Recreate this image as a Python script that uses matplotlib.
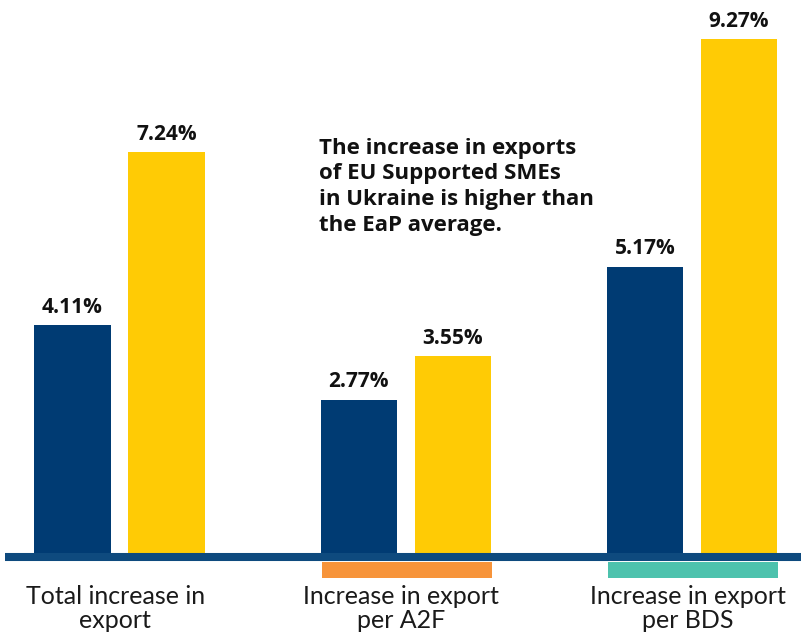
import matplotlib.pyplot as plt
from matplotlib.lines import Line2D

categories = ["Total increase in\nexport", "Increase in export\nper A2F", "Increase in export\nper BDS"]
eap_values = [4.11, 2.77, 5.17]
ukraine_values = [7.24, 3.55, 9.27]
note = "The increase in exports\nof EU Supported SMEs\nin Ukraine is higher than\nthe EaP average."

blue = "#003B73"
yellow = "#FFCB05"
axis_blue = "#0E4A7E"
marker_colors = [None, "#F7943A", "#4DC2AD"]

fig = plt.figure(figsize=(8.01, 6.35), dpi=100)
ax = fig.add_axes([0, 0, 1, 1])
ax.set_xlim(-0.4175, 2.381)
ax.set_ylim(-1.480, 9.982)
ax.axis("off")

w = 0.266
off = 0.164
xs = list(range(len(categories)))
ax.bar([x - off for x in xs], eap_values, width=w, color=blue)
ax.bar([x + off for x in xs], ukraine_values, width=w, color=yellow)

for x, v in zip(xs, eap_values):
    ax.text(x - off, v + 0.13, f"{v:.2f}%", ha="center", va="bottom",
            fontsize=15, fontweight="bold", family="Open Sans", color="#111111")
for x, v in zip(xs, ukraine_values):
    ax.text(x + off, v + 0.13, f"{v:.2f}%", ha="center", va="bottom",
            fontsize=15, fontweight="bold", family="Open Sans", color="#111111")

# baseline
ax.add_line(Line2D([-0.40, 2.381], [-0.072, -0.072], color=axis_blue, lw=5.8,
                   solid_capstyle="butt"))

# colour strips under two categories
for x, c in zip(xs, marker_colors):
    if c:
        ax.bar(x + 0.005, -0.29, width=0.594, bottom=-0.165, color=c)

for x, lab in zip(xs, categories):
    ax.text(x - 0.015, -0.58, lab, ha="center", va="top", fontsize=18,
            family="Lato", fontweight="normal", color="#1a1a1a", linespacing=1.02)

ax.text(0.697, 7.5, note, ha="left", va="top", fontsize=16,
        fontweight="bold", family="Open Sans", color="#111111", linespacing=1.3)

fig.savefig("out.png", dpi=100)
